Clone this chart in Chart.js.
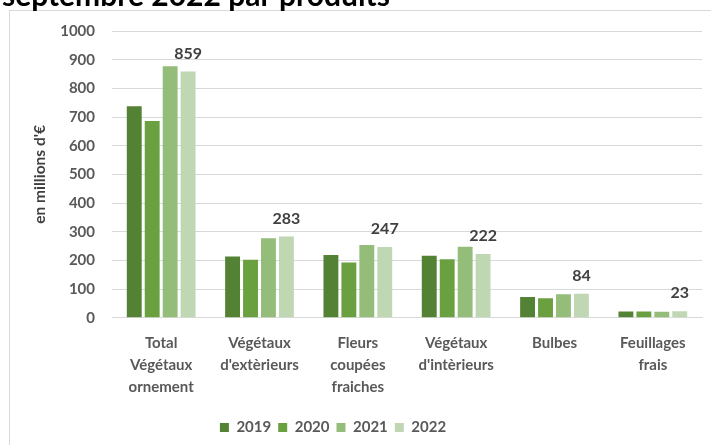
<!doctype html>
<html lang="fr">
<head>
<meta charset="UTF-8">
<title>Ventes par produits</title>
<script src="https://cdn.jsdelivr.net/npm/chart.js@4/dist/chart.umd.min.js"></script>
<style>
    html, body { margin: 0; padding: 0; background: #fff; }
    #wrap { width: 711px; height: 445px; position: relative; }
</style>
</head>
<body>
<div id="wrap"><canvas id="myChart" width="711" height="445"></canvas></div>
<script>
    var categories = [
        ["Total", "Végétaux", "ornement"],
        ["Végétaux", "d'extèrieurs"],
        ["Fleurs", "coupées", "fraiches"],
        ["Végétaux", "d'intèrieurs"],
        ["Bulbes"],
        ["Feuillages", "frais"]
    ];
    var years = ["2019", "2020", "2021", "2022"];
    var values2019 = [738, 214, 219, 216, 72, 22];
    var values2020 = [686, 202, 193, 204, 68, 22];
    var values2021 = [877, 277, 254, 248, 82, 21];
    var values2022 = [859, 283, 247, 222, 84, 23];
    var yTicks = [0, 100, 200, 300, 400, 500, 600, 700, 800, 900, 1000];

    var colors = ["#548235", "#6aa040", "#94bd7a", "#bfd7b3"];
    var grey = "#595959";

    Chart.defaults.font.family = "Lato, 'Open Sans', sans-serif";

    // frame + cut-off title at the top
    var framePlugin = {
        id: "frame",
        beforeDraw: function (chart) {
            var ctx = chart.ctx;
            ctx.save();
            ctx.fillStyle = "#fff";
            ctx.fillRect(0, 0, chart.width, chart.height);
            ctx.strokeStyle = "#d9d9d9";
            ctx.lineWidth = 1;
            ctx.strokeRect(9.5, 10.5, 720, 500);
            ctx.fillStyle = "#000";
            ctx.font = "bold 30px Lato, sans-serif";
            ctx.textBaseline = "alphabetic";
            ctx.fillText("septembre 2022 par produits", 2, 6);
            ctx.restore();
        },
        // legend in the original sits a bit left of the canvas centre
        afterLayout: function (chart) {
            chart.legend.left -= 18;
            chart.legend.right -= 18;
        }
    };

    // values above the 2022 bars only
    var labelPlugin = {
        id: "lastLabels",
        afterDatasetsDraw: function (chart) {
            var ctx = chart.ctx;
            var meta = chart.getDatasetMeta(3);
            ctx.save();
            ctx.fillStyle = "#404040";
            ctx.font = "bold 16px Lato, sans-serif";
            ctx.textAlign = "center";
            ctx.textBaseline = "middle";
            meta.data.forEach(function (bar, i) {
                ctx.fillText(values2022[i], bar.x, bar.y - 18);
            });
            ctx.restore();
        }
    };

    var seriesValues = [values2019, values2020, values2021, values2022];
    var datasets = years.map(function (y, i) {
        return {
            label: y,
            data: seriesValues[i],
            backgroundColor: colors[i],
            categoryPercentage: 0.73,
            barPercentage: 0.83
        };
    });

    var ctx = document.getElementById("myChart").getContext("2d");
    var myChart = new Chart(ctx, {
        type: "bar",
        data: { labels: categories, datasets: datasets },
        plugins: [framePlugin, labelPlugin],
        options: {
            responsive: false,
            animation: false,
            layout: { padding: { top: 31, right: 9, bottom: 0, left: 0 } },
            plugins: {
                tooltip: { enabled: false },
                legend: {
                    position: "bottom",
                    labels: {
                        boxWidth: 9,
                        boxHeight: 9,
                        padding: 7,
                        color: grey,
                        font: { size: 15, weight: "bold" }
                    }
                }
            },
            scales: {
                x: {
                    grid: { display: false, drawTicks: false },
                    border: { display: true, color: "#d9d9d9" },
                    ticks: {
                        color: grey,
                        padding: 15,
                        maxRotation: 0,
                        autoSkip: false,
                        font: { size: 15, weight: "bold", lineHeight: 1.45 }
                    }
                },
                y: {
                    min: 0,
                    max: 1000,
                    afterFit: function (scale) { scale.width = 112; },
                    afterBuildTicks: function (scale) {
                        scale.ticks = yTicks.map(function (v) { return { value: v }; });
                    },
                    grid: { color: "#d9d9d9", drawTicks: false },
                    border: { display: false },
                    ticks: {
                        color: grey,
                        padding: 17,
                        font: { size: 15, weight: "bold" },
                        callback: function (v) { return String(v); }
                    },
                    title: {
                        display: true,
                        text: "en millions d'€",
                        color: "#404040",
                        padding: { top: 31, bottom: 0 },
                        font: { size: 15.5, weight: "bold" }
                    }
                }
            }
        }
    });
</script>
</body>
</html>
